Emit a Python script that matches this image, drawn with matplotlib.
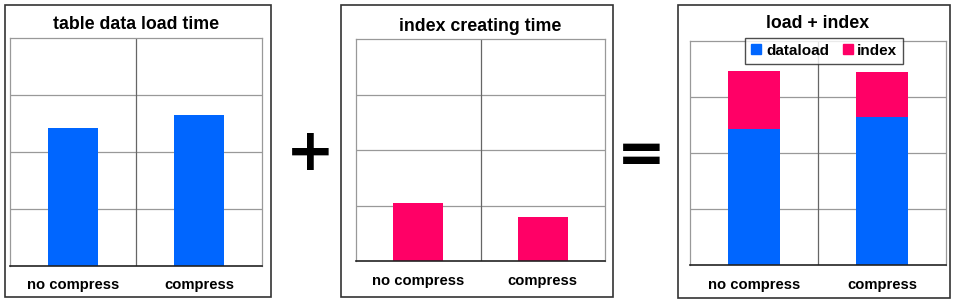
import matplotlib.pyplot as plt
from matplotlib.patches import Rectangle, Patch

plt.rcParams['font.family'] = ['Liberation Sans', 'DejaVu Sans']
plt.rcParams['font.weight'] = 'bold'

# data (units = grid divisions)
categories = ['no compress', 'compress']
load_time = [2.42, 2.65]
index_time = [1.04, 0.79]
titles = ['table data load time', 'index creating time', 'load + index']

blue = '#0066ff'
pink = '#ff0066'

W, H = 960, 303
fig = plt.figure(figsize=(W / 100, H / 100), dpi=100)


def px_axes(x0, y0, x1, y1):
    return fig.add_axes([x0 / W, 1 - y1 / H, (x1 - x0) / W, (y1 - y0) / H])


def px_box(x0, y0, x1, y1):
    fig.patches.append(Rectangle((x0 / W, 1 - y1 / H), (x1 - x0) / W, (y1 - y0) / H,
                                 transform=fig.transFigure, fill=False,
                                 edgecolor='#333333', linewidth=1.2))


def style(ax, title, tpad):
    ax.set_xlim(-0.5, 1.5)
    ax.set_ylim(0, 4)
    ax.set_yticks([1, 2, 3])
    ax.set_yticklabels([])
    ax.tick_params(axis='y', length=0)
    ax.set_xticks([0, 1])
    ax.set_xticklabels(categories, fontsize=10.6, fontweight='bold')
    ax.tick_params(axis='x', length=0, pad=9)
    ax.grid(axis='y', color='#999999', linewidth=0.9)
    ax.axvline(0.5, color='#666666', linewidth=0.9)
    ax.set_axisbelow(True)
    for s in ['top', 'right', 'left']:
        ax.spines[s].set_color('#999999')
        ax.spines[s].set_linewidth(0.9)
    ax.spines['bottom'].set_color('#222222')
    ax.spines['bottom'].set_linewidth(1.2)
    ax.set_title(title, fontsize=12.8, fontweight='bold', pad=tpad)


x = [0, 1]

# panel 1
px_box(5, 5, 271, 297)
ax1 = px_axes(10, 38, 262, 266)
ax1.bar(x, load_time, width=0.4, color=blue, zorder=2)
style(ax1, titles[0], 6.5)

# panel 2
px_box(341, 5, 613, 297)
ax2 = px_axes(356, 39, 605, 261)
ax2.bar(x, index_time, width=0.4, color=pink, zorder=2)
style(ax2, titles[1], 5.5)

# panel 3
px_box(678, 5, 950, 298)
ax3 = px_axes(690, 41, 946, 265)
ax3.bar(x, load_time, width=0.4, color=blue, zorder=2)
ax3.bar(x, index_time, width=0.4, bottom=load_time, color=pink, zorder=2)
style(ax3, titles[2], 9)
handles = [Patch(color=blue, label='dataload'), Patch(color=pink, label='index')]
leg = ax3.legend(handles=handles, loc='upper center', bbox_to_anchor=(0.525, 1.015),
                 ncol=2, frameon=True, fancybox=False, fontsize=11,
                 handlelength=0.65, handleheight=0.65, handletextpad=0.3,
                 columnspacing=0.9, borderpad=0.4, borderaxespad=0)
leg.get_frame().set_edgecolor('#222222')
leg.get_frame().set_linewidth(1.0)
for t in leg.get_texts():
    t.set_fontweight('bold')

fig.text(310 / W, 1 - 154 / H, '+', fontsize=42, ha='center', va='center',
         family='DejaVu Sans', fontweight='bold')
fig.text(641 / W, 1 - 155 / H, '=', fontsize=42, ha='center', va='center',
         family='DejaVu Sans', fontweight='bold')

fig.savefig('out.png', dpi=100)
